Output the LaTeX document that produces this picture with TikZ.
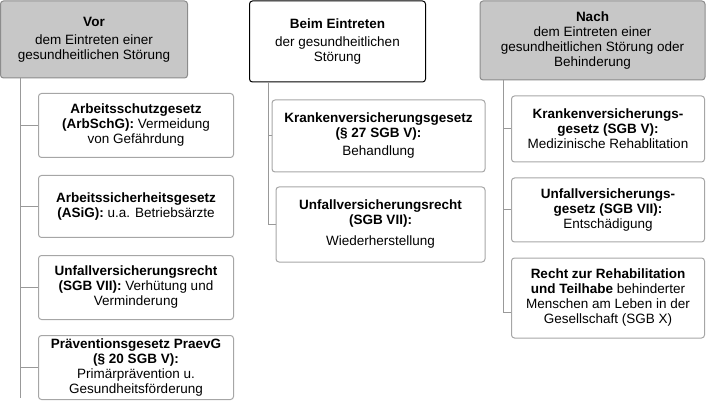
\documentclass[tikz,border=0pt]{standalone}
\usepackage{fontspec}
\setmainfont{Liberation Sans}
\begin{document}
\begin{tikzpicture}[x=1pt,y=-1pt,
 bx/.style={draw=black!35,line width=1pt,rounded corners=3pt,align=center,font=\fontsize{13.5}{15}\selectfont,inner sep=1pt},
 hd/.style={draw=black!45,fill=black!22,line width=1pt,rounded corners=3pt,align=center,font=\fontsize{13.5}{15}\selectfont,inner sep=1pt},
 ln/.style={draw=black!40,line width=1pt}]
\useasboundingbox (0,0) rectangle (706,403);
% headers
\node[hd,minimum width=187,minimum height=77] (h1) at (94,39.5) {\textbf{Vor}\\[3pt]dem Eintreten einer\\gesundheitlichen Störung};
\node[bx,draw=black,fill=white,minimum width=176,minimum height=81] (h2) at (337.5,41.5) {\textbf{Beim Eintreten}\\[3pt]der gesundheitlichen\\Störung};
\node[hd,minimum width=225,minimum height=79] (h3) at (592.5,40.5) {\textbf{Nach}\\dem Eintreten einer\\gesundheitlichen Störung oder\\Behinderung};
% column 1
\node[bx,minimum width=195,minimum height=64] (a1) at (136,125.5) {\textbf{Arbeitsschutzgesetz}\\\textbf{(ArbSchG):} Vermeidung\\von Gefährdung};
\node[bx,minimum width=195,minimum height=62] (a2) at (136,206.5) {\textbf{Arbeitssicherheitsgesetz}\\\textbf{(ASiG):} u.a. Betriebsärzte};
\node[bx,minimum width=195,minimum height=64] (a3) at (136,287.5) {\textbf{Unfallversicherungsrecht}\\\textbf{(SGB VII):} Verhütung und\\Verminderung};
\node[bx,minimum width=195,minimum height=64] (a4) at (136,367.5) {\textbf{Präventionsgesetz PraevG}\\\textbf{(§ 20 SGB V):}\\Primärprävention u.\\Gesundheitsförderung};
\coordinate (c1t) at (20,78);
\coordinate (c1b) at (20,398);
\draw[ln] (c1t) -- (c1b);
\foreach \n in {a1,a2,a3,a4}{\draw[ln] (c1t |- \n.west) -- (\n.west);}
% column 2
\node[bx,minimum width=213,minimum height=72] (b1) at (378.5,136) {\textbf{Krankenversicherungsgesetz}\\\textbf{(§ 27 SGB V):}\\[3pt]Behandlung};
\node[bx,minimum width=209,minimum height=75] (b2) at (380.5,224.5) {\textbf{Unfallversicherungsrecht}\\\textbf{(SGB VII):}\\[6pt]Wiederherstellung};
\coordinate (c2t) at (268,82);
\coordinate (c2b) at (268,224.5);
\draw[ln] (c2t) -- (c2b);
\draw[ln] (c2t |- b1.west) -- (b1.west);
\draw[ln] (c2b) -- (b2.west);
% column 3
\node[bx,minimum width=193,minimum height=66] (d1) at (608,129) {\textbf{Krankenversicherungs-}\\\textbf{gesetz (SGB V):}\\Medizinische Rehablitation};
\node[bx,minimum width=193,minimum height=64] (d2) at (608,210) {\textbf{Unfallversicherungs-}\\\textbf{gesetz (SGB VII):}\\Entschädigung};
\node[bx,minimum width=193,minimum height=80] (d3) at (608,298) {\textbf{Recht zur Rehabilitation}\\\textbf{und Teilhabe} behinderter\\Menschen am Leben in der\\Gesellschaft (SGB X)};
\coordinate (c3t) at (503,80);
\coordinate (c3b) at (503,312);
\draw[ln] (c3t) -- (c3b);
\draw[ln] (c3t |- d1.west) -- (d1.west);
\draw[ln] (c3t |- d2.west) -- (d2.west);
\draw[ln] (c3b) -- (d3.west |- c3b);
\end{tikzpicture}
\end{document}
